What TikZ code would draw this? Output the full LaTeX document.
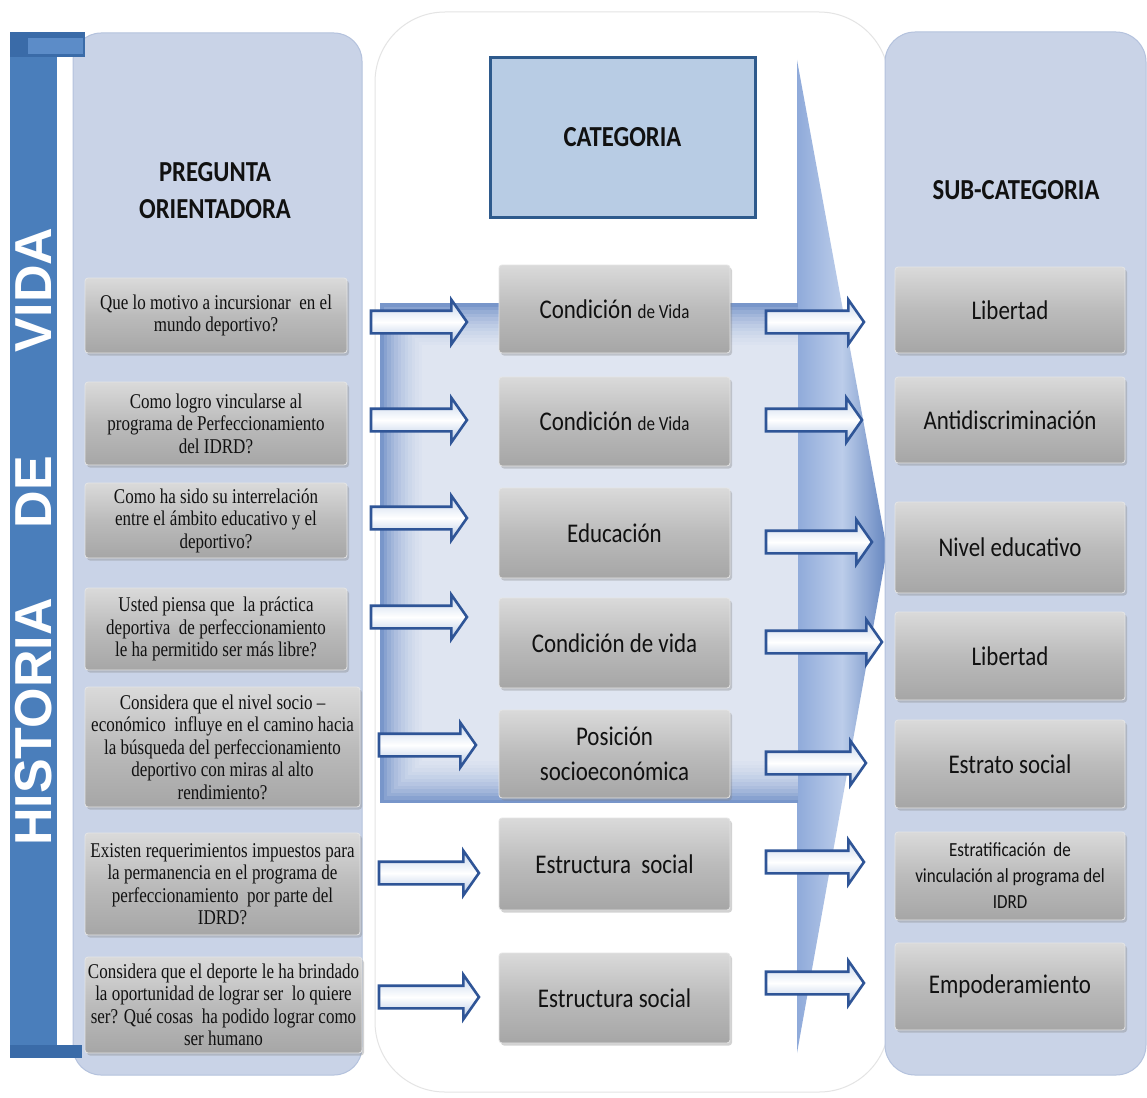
\documentclass[tikz,border=0pt]{standalone}
\usepackage{fontspec}
\usetikzlibrary{shapes.arrows,shadows}
\newfontfamily\cond[FakeStretch=0.85]{Carlito}
\newfontfamily\qser[FakeStretch=0.81]{Liberation Serif}
\newfontfamily\barf{Liberation Sans}
\definecolor{panel}{HTML}{C9D3E7}
\definecolor{panelb}{HTML}{B4C2DD}
\definecolor{barblue}{HTML}{4A7EBB}
\definecolor{bardark}{HTML}{3A6BA8}
\definecolor{barlight}{HTML}{5C8CC8}
\definecolor{arrline}{HTML}{2F5597}
\definecolor{arr1}{HTML}{C7D6EC}
\definecolor{arr2}{HTML}{B3C7E4}
\definecolor{catfill}{HTML}{B8CCE4}
\definecolor{catline}{HTML}{2E5A8C}
\definecolor{bigblue}{HTML}{7896CA}
\definecolor{tri1}{HTML}{8FAADA}
\definecolor{tri2}{HTML}{BCCDEA}
\definecolor{tri3}{HTML}{6586C0}
\definecolor{midline}{HTML}{E4E4E4}
\definecolor{g1}{HTML}{DADADA}
\definecolor{g2}{HTML}{BBBBBB}
\definecolor{g3}{HTML}{A6A6A6}
\definecolor{txt}{HTML}{111111}
\tikzset{
  gbox/.style={rounded corners=3pt, draw=white!80!gray, line width=0.8pt,
    top color=g1, bottom color=g3, middle color=g2,
    drop shadow={shadow xshift=2pt, shadow yshift=-2.5pt, opacity=0.35},
    inner sep=1pt, align=center, text=txt},
  qbox/.style={gbox, font=\qser\fontsize{21}{22.5}\selectfont},
  cbox/.style={gbox, font=\cond\fontsize{27}{33}\selectfont, minimum width=231},
  sbox/.style={gbox, font=\cond\fontsize{27}{33}\selectfont, minimum width=230},
  ttl/.style={font=\cond\bfseries\fontsize{29}{37}\selectfont, align=center, text=txt},
  barr/.style={single arrow, draw=arrline, line width=2.6pt, single arrow head extend=11,
    single arrow tip angle=110, text height=10pt, text depth=10pt, inner sep=0pt,
    top color=arr1, bottom color=arr2, middle color=white},
  vtext/.style={rotate=90, text=white, font=\barf\bfseries\fontsize{52}{52}\selectfont, inner sep=0pt}
}
\begin{document}
\begin{tikzpicture}[x=1pt,y=-1pt]
\useasboundingbox (0,0) rectangle (1147,1097);
\fill[white] (0,0) rectangle (1147,1097);

% middle faint panel
\draw[midline, line width=1pt, fill=white, rounded corners=70] (375,12) rectangle (889,1092);

% big blue arrow
\shade[left color=tri1, right color=tri3, middle color=tri2] (797,60) -- (887,550) -- (797,1053) -- cycle;
\fill[bigblue] (380,303) rectangle (798,803);
\foreach \i in {1,...,12} \fill[white,opacity=0.12] ({380+3.5*\i},{303+3.5*\i}) rectangle (798,{803-3.5*\i});

% side panels
\draw[panelb, line width=1pt, fill=panel, rounded corners=28] (73,33) rectangle (362,1075);
\draw[panelb, line width=1pt, fill=panel, rounded corners=30] (885,32) rectangle (1146,1075);

% vertical bar
\fill[barblue] (10,33) rectangle (57,1057);
\fill[bardark] (10,32) rectangle (85,57);
\fill[barlight] (28,38) rectangle (83,54);
\fill[bardark] (10,1045) rectangle (82,1058);
\node[vtext] (hist) at (34,722) {HISTORIA};
\node[vtext] (de) at (34,492) {DE};
\node[vtext] (vida) at (34,290) {VIDA};

% titles
\node[ttl] (tq) at (215,191) {PREGUNTA\\ORIENTADORA};
\node[ttl, draw=catline, line width=3pt, fill=catfill, minimum width=265, minimum height=159] (cat) at (622.5,137.5) {CATEGORIA};
\node[ttl] (ts) at (1016,190) {SUB-CATEGORIA};

% questions
\node[qbox, minimum width=262, minimum height=75] (q1) at (216,315.5) {Que lo motivo a incursionar\ \ en el\\mundo deportivo?};
\node[qbox, minimum width=262, minimum height=83] (q2) at (216,423.5) {Como logro vincularse al\\programa de Perfeccionamiento\\del IDRD?};
\node[qbox, minimum width=262, minimum height=75] (q3) at (216,520.5) {Como ha sido su interrelación\\entre el ámbito educativo y el\\deportivo?};
\node[qbox, minimum width=262, minimum height=82] (q4) at (216,629) {Usted piensa que\ \ la práctica\\deportiva\ \ de perfeccionamiento\\le ha permitido ser más libre?};
\node[qbox, minimum width=275, minimum height=120] (q5) at (222.5,747) {Considera que el nivel socio –\\económico\ \ influye en el camino hacia\\la búsqueda del perfeccionamiento\\deportivo con miras al alto\\rendimiento?};
\node[qbox, minimum width=275, minimum height=102] (q6) at (222.5,884) {Existen requerimientos impuestos para\\la permanencia en el programa de\\perfeccionamiento\ \ por parte del\\IDRD?};
\node[qbox, minimum width=277, minimum height=96] (q7) at (223.5,1005) {Considera que el deporte le ha brindado\\la oportunidad de lograr ser\ \ lo quiere\\ser? Qué cosas\ \ ha podido lograr como\\ser humano};

% categories
\node[cbox, minimum height=88] (c1) at (614.5,309) {Condición {\fontsize{20}{24}\selectfont de Vida}};
\node[cbox, minimum height=89] (c2) at (614.5,421.5) {Condición {\fontsize{20}{24}\selectfont de Vida}};
\node[cbox, minimum height=90] (c3) at (614.5,533) {Educación};
\node[cbox, minimum height=90] (c4) at (614.5,643) {Condición de vida};
\node[cbox, minimum height=88, font=\cond\fontsize{27}{35}\selectfont] (c5) at (614.5,754) {Posición\\socioeconómica};
\node[cbox, minimum height=92] (c6) at (614.5,864) {Estructura\ \ social};
\node[cbox, minimum height=90] (c7) at (614.5,998) {Estructura social};

% sub-categories
\node[sbox, minimum height=86] (s1) at (1010,310) {Libertad};
\node[sbox, minimum height=86] (s2) at (1010,420) {Antidiscriminación};
\node[sbox, minimum height=91] (s3) at (1010,547.5) {Nivel educativo};
\node[sbox, minimum height=88] (s4) at (1010,656) {Libertad};
\node[sbox, minimum height=88] (s5) at (1010,764) {Estrato social};
\node[sbox, minimum height=88, font=\cond\fontsize{20}{26}\selectfont] (s6) at (1010,876) {Estratificación\ \ de\\vinculación al programa del\\IDRD};
\node[sbox, minimum height=87] (s7) at (1010,986.5) {Empoderamiento};

% left block arrows
\node[barr, minimum height=96] (a1) at (415,322) {};
\node[barr, minimum height=96] (a2) at (415,420) {};
\node[barr, minimum height=96] (a3) at (415,518) {};
\node[barr, minimum height=96] (a4) at (415,617) {};
\node[barr, minimum height=97] (a5) at (423.5,745) {};
\node[barr, minimum height=100] (a6) at (425,873) {};
\node[barr, minimum height=100] (a7) at (425,997) {};

% right block arrows
\node[barr, minimum height=98] (r1) at (811,322) {};
\node[barr, minimum height=96] (r2) at (810,420) {};
\node[barr, minimum height=106] (r3) at (815,542) {};
\node[barr, minimum height=116] (r4) at (820,642) {};
\node[barr, minimum height=100] (r5) at (812,763) {};
\node[barr, minimum height=98] (r6) at (811,862) {};
\node[barr, minimum height=98] (r7) at (811,983) {};
\end{tikzpicture}
\end{document}
